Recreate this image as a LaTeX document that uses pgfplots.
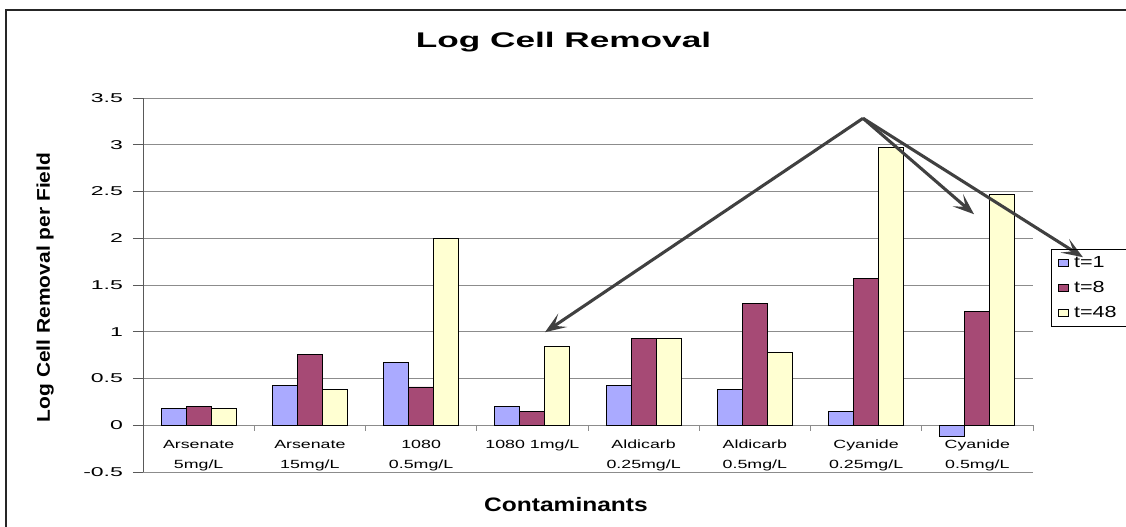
\documentclass[border=0pt]{standalone}
\usepackage{fontspec}
\setmainfont{Liberation Sans}
\usepackage{graphicx}
\usepackage{pgfplots}
\usepackage{pgfplotstable}
\pgfplotsset{compat=1.18}
\usetikzlibrary{arrows.meta}
\definecolor{cA}{HTML}{AAAAFF}
\definecolor{cB}{HTML}{A64A75}
\definecolor{cC}{HTML}{FFFFD2}
\definecolor{gridc}{HTML}{8C8C8C}
\definecolor{arr}{HTML}{404040}
\newcommand\catlab[2]{\scalebox{1.5}[1]{\begin{tabular}{@{}c@{}}#1\\#2\end{tabular}}}
\pgfplotstableread{
x t1 t8 t48
0 0.18 0.20 0.18
1 0.43 0.76 0.385
2 0.67 0.41 2.00
3 0.20 0.15 0.845
4 0.43 0.93 0.93
5 0.385 1.30 0.78
6 0.15 1.57 2.97
7 -0.115 1.22 2.47
}\datatable
\begin{document}
\begin{tikzpicture}
\useasboundingbox (-107.25pt,-40.5pt) rectangle (737.25pt,354pt);
\draw[line width=1.5pt, black!85] (-102.75pt,-80pt) -- (-102.75pt,346.5pt) -- (800pt,346.5pt);
\begin{axis}[
  at={(0pt,0pt)}, anchor=south west,
  scale only axis, width=667.5pt, height=280.5pt,
  xmin=-0.5, xmax=7.5, ymin=-0.5, ymax=3.5,
  axis x line*=middle, axis y line*=left,
  x axis line style={gridc, line width=0.7pt},
  y axis line style={black!65, line width=0.7pt},
  ybar=0pt, bar width=18.75pt,
  ytick={-0.5,0,0.5,1,1.5,2,2.5,3,3.5},
  ymajorgrids, grid style={gridc, line width=0.6pt},
  xtick={0,1,2,3,4,5,6,7},
  xticklabels={{\catlab{Arsenate}{5mg/L}},{\catlab{Arsenate}{15mg/L}},{\catlab{1080}{0.5mg/L}},{\scalebox{1.5}[1]{\begin{tabular}{@{}c@{}}1080 1mg/L\end{tabular}}},{\catlab{Aldicarb}{0.25mg/L}},{\catlab{Aldicarb}{0.5mg/L}},{\catlab{Cyanide}{0.25mg/L}},{\catlab{Cyanide}{0.5mg/L}}},
  xticklabel style={font=\fontsize{8.9}{15}\selectfont, yshift=4pt},
  xtick style={draw=none},
  ytick style={draw=black!65, line width=0.7pt},
  tick align=outside, major tick length=7.5pt,
  /pgf/number format/assume math mode=true,
  yticklabel={\scalebox{1.8}[1]{\pgfmathprintnumber{\tick}}},
  yticklabel style={font=\fontsize{9.6}{11}\selectfont, xshift=-4pt},
  clip=false,
  legend style={at={(1.0202,0.5963)}, anchor=north west, draw=black, line width=0.6pt, fill=none,
    font=\fontsize{12}{13}\selectfont, inner xsep=5pt, inner ysep=3pt, row sep=5pt, cells={anchor=west}},
  legend image code/.code={\draw[#1, line width=0.5pt] (0pt,-2.6pt) rectangle (7.5pt,2.6pt);},
]
\addplot[fill=cA, draw=black, line width=0.6pt] table[x=x,y=t1]{\datatable};
\addplot[fill=cB, draw=black, line width=0.6pt] table[x=x,y=t8]{\datatable};
\addplot[fill=cC, draw=black, line width=0.6pt] table[x=x,y=t48]{\datatable};
\legend{\hspace{2pt}\scalebox{1.35}[1]{t=1},\hspace{2pt}\scalebox{1.35}[1]{t=8},\hspace{2pt}\scalebox{1.35}[1]{t=48}}
\pgfplotsinvokeforeach{0.5,1.5,2.5,3.5,4.5,5.5,6.5,7.5}{
  \draw[gridc, line width=0.7pt] (axis cs:#1,0) -- ++(0pt,-4pt);
}
\draw[arr, line width=2.3pt, -{Stealth[length=16pt,width=12pt,inset=7.5pt]}] (axis cs:5.972,3.283) -- (axis cs:3.113,0.995);
\draw[arr, line width=2.3pt, -{Stealth[length=16pt,width=12pt,inset=7.5pt]}] (axis cs:5.972,3.283) -- (axis cs:6.970,2.257);
\draw[arr, line width=2.3pt, -{Stealth[length=16pt,width=12pt,inset=7.5pt]}] (axis cs:5.972,3.283) -- (axis cs:7.949,1.797);
\end{axis}
\node[anchor=base, font=\bfseries\fontsize{15.9}{18}\selectfont] at (315.4pt,318.2pt) {\scalebox{1.66}[1]{Log Cell Removal}};
\node[anchor=base, font=\bfseries\fontsize{14.6}{17}\selectfont] at (317.25pt,-29.25pt) {\scalebox{1.26}[1]{Contaminants}};
\node[anchor=base, rotate=90, font=\bfseries\fontsize{13.8}{16}\selectfont] at (-69.75pt,138.4pt) {\scalebox{1.14}[1]{Log Cell Removal per Field}};
\end{tikzpicture}
\end{document}
